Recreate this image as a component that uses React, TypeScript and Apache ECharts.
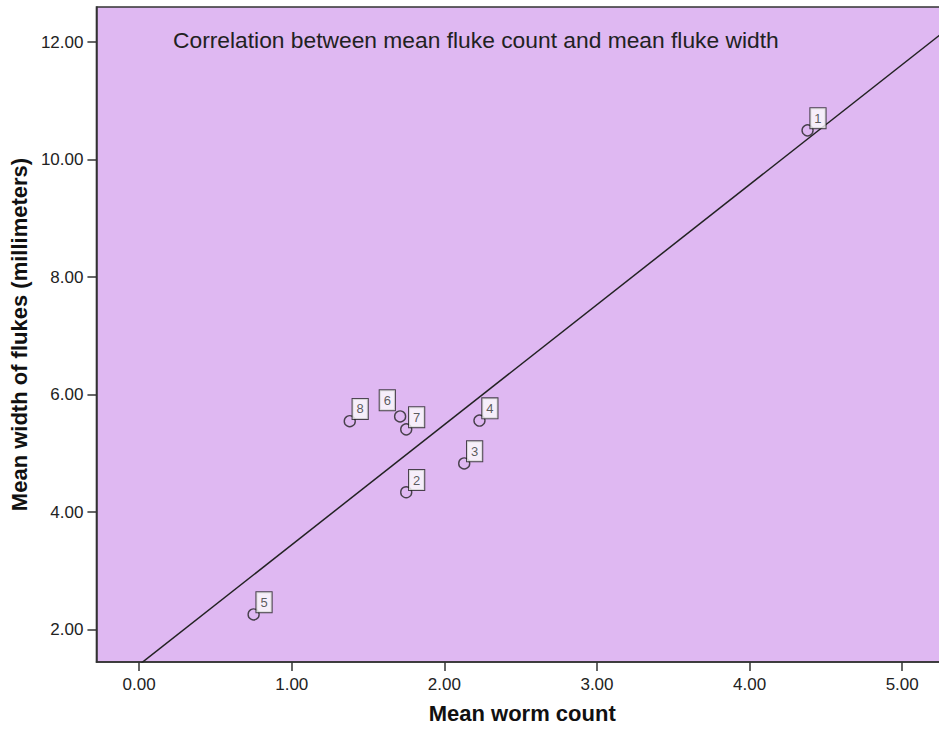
import React, { useEffect, useRef } from "react";
import * as echarts from "echarts";

const pointIds = ["1", "2", "3", "4", "5", "6", "7", "8"];
const meanWormCount = [4.38, 1.75, 2.13, 2.23, 0.75, 1.71, 1.75, 1.38];
const meanFlukeWidth = [10.5, 4.34, 4.83, 5.56, 2.26, 5.63, 5.41, 5.55];
const xTicks = [0, 1, 2, 3, 4, 5];
const yTicks = [2, 4, 6, 8, 10, 12];

const X_MIN = -0.28;
const X_MAX = 5.51;
const Y_MIN = 1.45;
const Y_MAX = 12.6;

const FONT = "'Liberation Sans', Arial, sans-serif";

function fitLine(xs: number[], ys: number[]) {
  const n = xs.length;
  const mx = xs.reduce((a, b) => a + b, 0) / n;
  const my = ys.reduce((a, b) => a + b, 0) / n;
  let sxy = 0;
  let sxx = 0;
  for (let i = 0; i < n; i++) {
    sxy += (xs[i] - mx) * (ys[i] - my);
    sxx += (xs[i] - mx) * (xs[i] - mx);
  }
  const slope = sxy / sxx;
  return { slope, intercept: my - slope * mx };
}

export default function App() {
  const ref = useRef<HTMLDivElement>(null);
  useEffect(() => {
    if (!ref.current) return;
    const chart = echarts.init(ref.current, undefined, { renderer: "svg" });
    const { slope, intercept } = fitLine(meanWormCount, meanFlukeWidth);
    const points = pointIds.map((id, i) => {
      const left = id === "6";
      return {
        value: [meanWormCount[i], meanFlukeWidth[i], id],
        label: left
          ? { position: [1, 0], align: "right", verticalAlign: "bottom" }
          : { position: [9, 4], align: "left", verticalAlign: "bottom" },
      };
    });
    const axisCommon = {
      axisLine: { show: true, onZero: false, lineStyle: { color: "#333", width: 1.5 } },
      axisTick: { show: true, length: 9, lineStyle: { color: "#333", width: 1.5 } },
      splitLine: { show: false },
    };
    chart.setOption({
      animation: false,
      backgroundColor: "#ffffff",
      textStyle: { fontFamily: FONT },
      grid: {
        left: 94,
        top: 7,
        width: 886,
        height: 655,
        show: true,
        backgroundColor: "#dfb8f2",
        borderColor: "#333",
        borderWidth: 1.5,
      },
      xAxis: {
        type: "value",
        min: X_MIN,
        max: X_MAX,
        name: "Mean worm count",
        nameLocation: "middle",
        nameGap: 40,
        nameTextStyle: {
          fontFamily: FONT,
          fontWeight: "bold",
          fontSize: 22,
          color: "#111",
          padding: [0, 32, 0, 0],
        },
        ...axisCommon,
        axisTick: { ...axisCommon.axisTick, customValues: xTicks },
        axisLabel: {
          customValues: xTicks,
          formatter: (v: number) => v.toFixed(2),
          fontFamily: FONT,
          fontSize: 17,
          color: "#222",
          margin: 14,
        },
      },
      yAxis: {
        type: "value",
        min: Y_MIN,
        max: Y_MAX,
        name: "Mean width of flukes (millimeters)",
        nameLocation: "middle",
        nameGap: 58,
        nameTextStyle: {
          fontFamily: FONT,
          fontWeight: "bold",
          fontSize: 22,
          color: "#111",
        },
        ...axisCommon,
        axisTick: { ...axisCommon.axisTick, customValues: yTicks },
        axisLabel: {
          customValues: yTicks,
          formatter: (v: number) => v.toFixed(2),
          fontFamily: FONT,
          fontSize: 17,
          color: "#222",
          margin: 13,
        },
      },
      graphic: [
        {
          type: "text",
          left: 173,
          top: 28,
          z: 10,
          style: {
            text: "Correlation between mean fluke count and mean fluke width",
            font: `22.8px ${FONT}`,
            fill: "#222",
          },
        },
      ],
      series: [
        {
          type: "line",
          data: [
            [X_MIN, intercept + slope * X_MIN],
            [X_MAX, intercept + slope * X_MAX],
          ],
          showSymbol: false,
          symbol: "none",
          clip: true,
          lineStyle: { color: "#222", width: 1.5 },
          z: 2,
        },
        {
          type: "scatter",
          data: points,
          symbol: "circle",
          symbolSize: 11,
          itemStyle: { color: "rgba(0,0,0,0)", borderColor: "#222", borderWidth: 1.4 },
          label: {
            show: true,
            formatter: (p: any) => p.value[2],
            fontFamily: FONT,
            fontSize: 13,
            lineHeight: 12,
            color: "#333",
            backgroundColor: "#fbfbfb",
            borderColor: "#222",
            borderWidth: 1,
            padding: [4, 4, 4, 4],
          },
          z: 3,
        },
      ],
    });
    return () => chart.dispose();
  }, []);
  return (
    <div
      style={{
        position: "fixed",
        left: 0,
        top: 0,
        width: 939,
        height: 729,
        overflow: "hidden",
        background: "#ffffff",
      }}
    >
      <div ref={ref} style={{ width: 1000, height: 729 }} />
    </div>
  );
}
